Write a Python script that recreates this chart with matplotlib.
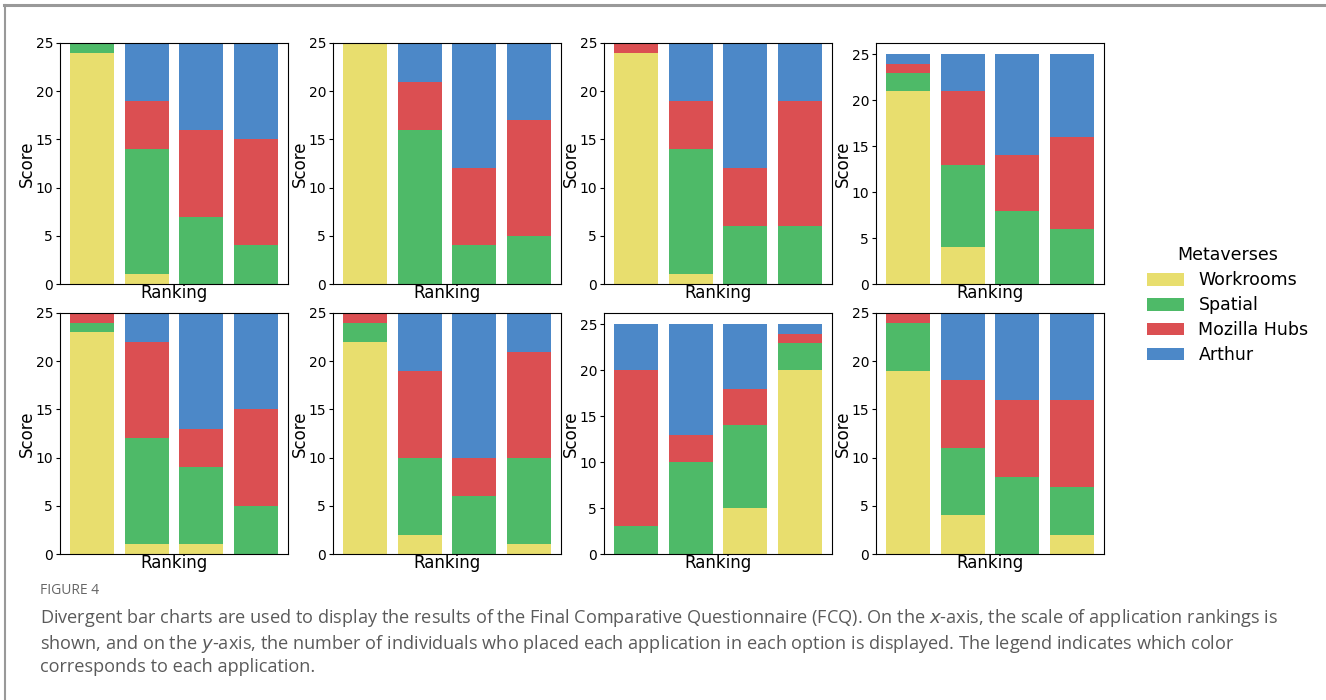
import matplotlib
matplotlib.use("Agg")
import matplotlib.pyplot as plt
from matplotlib.lines import Line2D
import numpy as np

metaverses = ["Workrooms", "Spatial", "Mozilla Hubs", "Arthur"]
colors = ["#E8DE6E", "#4EBA68", "#DB4F52", "#4C88C8"]

# each panel: one list per metaverse, values for ranking positions 1..4
panel1 = [[24, 1, 0, 0], [1, 13, 7, 4], [0, 5, 9, 11], [0, 6, 9, 10]]
panel2 = [[25, 0, 0, 0], [0, 16, 4, 5], [0, 5, 8, 12], [0, 4, 13, 8]]
panel3 = [[24, 1, 0, 0], [0, 13, 6, 6], [1, 5, 6, 13], [0, 6, 13, 6]]
panel4 = [[21, 4, 0, 0], [2, 9, 8, 6], [1, 8, 6, 10], [1, 4, 11, 9]]
panel5 = [[23, 1, 1, 0], [1, 11, 8, 5], [1, 10, 4, 10], [0, 3, 12, 10]]
panel6 = [[22, 2, 0, 1], [2, 8, 6, 9], [1, 9, 4, 11], [0, 6, 15, 4]]
panel7 = [[0, 0, 5, 20], [3, 10, 9, 3], [17, 3, 4, 1], [5, 12, 7, 1]]
panel8 = [[19, 4, 0, 2], [5, 7, 8, 5], [1, 7, 8, 9], [0, 7, 9, 9]]
panels = [panel1, panel2, panel3, panel4, panel5, panel6, panel7, panel8]
# panels 4 and 7 kept matplotlib's auto y-limit in the original
fixed_top = [True, True, True, False, True, True, False, True]

caption = ("Divergent bar charts are used to display the results of the Final Comparative Questionnaire (FCQ). "
           "On the $x$-axis, the scale of application rankings is\nshown, and on the $y$-axis, the number of "
           "individuals who placed each application in each option is displayed. The legend indicates which color\n"
           "corresponds to each application.")

fig = plt.figure(figsize=(13.26, 7.0), dpi=100)

W, H = 1326.0, 700.0
col_left = [60, 333, 604, 876]
row_top = [43, 313]
ax_w, ax_h = 228, 241

positions = np.arange(4)
for i, data in enumerate(panels):
    r, c = divmod(i, 4)
    ax = fig.add_axes([col_left[c] / W, 1 - (row_top[r] + ax_h) / H, ax_w / W, ax_h / H])
    bottom = np.zeros(4)
    for name, vals, col in zip(metaverses, data, colors):
        ax.bar(positions, vals, bottom=bottom, color=col, width=0.8, label=name)
        bottom += np.array(vals)
    if fixed_top[i]:
        ax.set_ylim(0, 25)
    ax.set_xticks([])
    ax.set_yticks([0, 5, 10, 15, 20, 25])
    ax.tick_params(axis="y", labelsize=10, pad=2, length=3)
    ax.set_xlabel("Ranking", fontsize=12, labelpad=0)
    ax.set_ylabel("Score", fontsize=12, labelpad=0)
    if i == 0:
        handles, labels = ax.get_legend_handles_labels()

fig.legend(handles, labels, title="Metaverses", loc="center", bbox_to_anchor=(0.926, 0.564),
           frameon=False, fontsize=12.5, title_fontsize=12.5, handlelength=2.1, handleheight=0.75,
           handletextpad=0.85, labelspacing=0.4)

# page frame lines
fig.add_artist(Line2D([4 / W, 1], [1 - 5 / H, 1 - 5 / H], color="#999999", lw=2.2, transform=fig.transFigure))
fig.add_artist(Line2D([5 / W, 5 / W], [0, 1 - 5 / H], color="#999999", lw=1.5, transform=fig.transFigure))

fig.text(40 / W, 1 - 591 / H, "FIGURE 4", fontsize=10, color="#666666", family="Open Sans",
         va="center", ha="left")
fig.text(40 / W, 1 - 607 / H, caption, fontsize=13.1, color="#5a5a5a", family="Open Sans",
         va="top", ha="left", linespacing=1.24)

fig.savefig("out.png", dpi=100)
